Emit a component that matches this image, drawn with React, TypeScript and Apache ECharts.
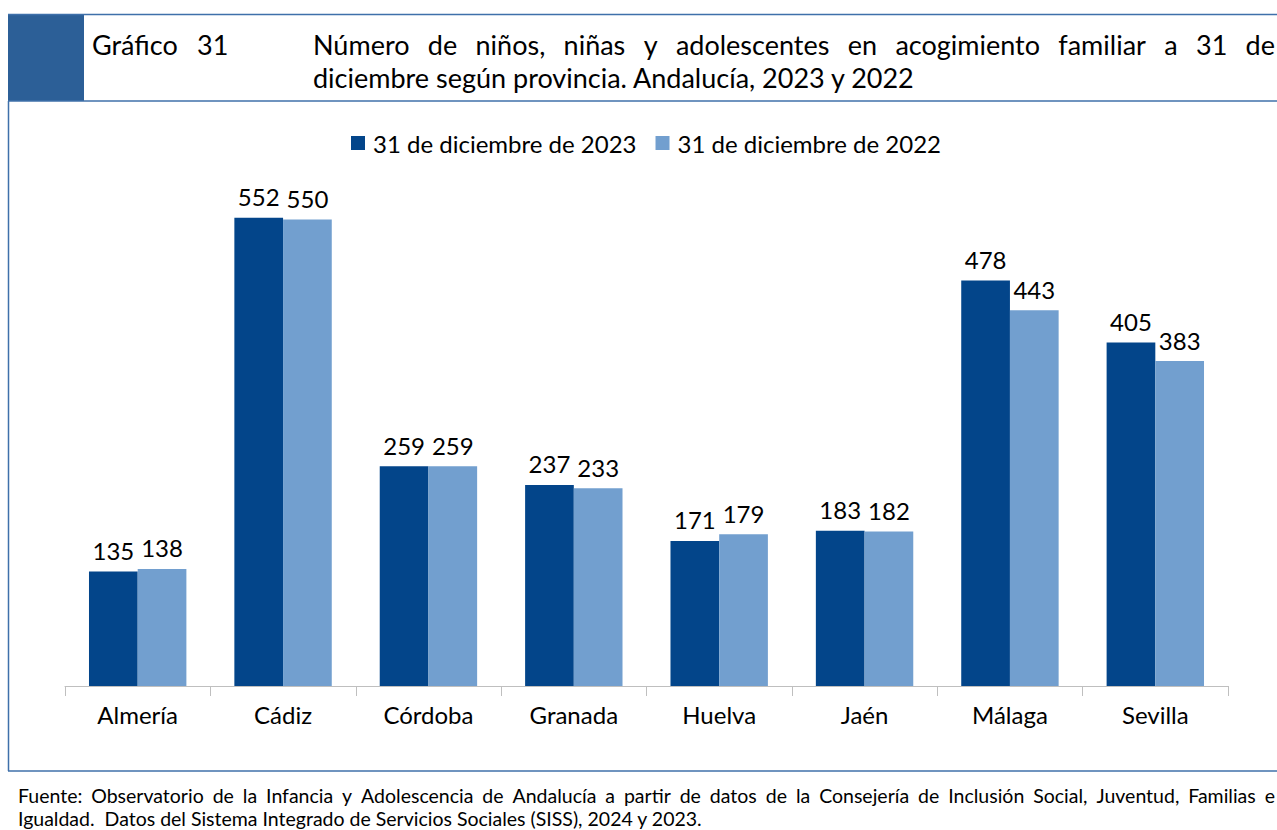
import React, { useEffect, useRef } from "react";
import * as echarts from "echarts";

const provincias = ["Almería", "Cádiz", "Córdoba", "Granada", "Huelva", "Jaén", "Málaga", "Sevilla"];
const serie2023 = [135, 552, 259, 237, 171, 183, 478, 405];
const serie2022 = [138, 550, 259, 233, 179, 182, 443, 383];
const seriesNames = ["31 de diciembre de 2023", "31 de diciembre de 2022"];
const titleLabel = "Gráfico";
const titleNum = "31";
const titleLine1 = "Número de niños, niñas y adolescentes en acogimiento familiar a 31 de";
const titleLine2 = "diciembre según provincia. Andalucía, 2023 y 2022";
const footLine1 = "Fuente: Observatorio de la Infancia y Adolescencia de Andalucía a partir de datos de la Consejería de Inclusión Social, Juventud, Familias e";
const footLine2 = "Igualdad.\u00a0 Datos del Sistema Integrado de Servicios Sociales (SISS), 2024 y 2023.";

const FAMILY = "Lato, 'Open Sans', sans-serif";
const DARK = "#03458A";
const LIGHT = "#729FCF";
const LINE = "#3F70AA";

function measure(text: string, font: string): number {
  const ctx = document.createElement("canvas").getContext("2d")!;
  ctx.font = font;
  return ctx.measureText(text).width;
}

function justified(text: string, x0: number, x1: number, y: number, size: number) {
  const words = text.split(" ");
  const font = `${size}px ${FAMILY}`;
  const widths = words.map((w) => measure(w, font));
  const total = widths.reduce((a, b) => a + b, 0);
  const gap = (x1 - x0 - total) / (words.length - 1);
  let x = x0;
  return words.map((w, i) => {
    const el = {
      type: "text",
      x,
      y,
      style: { text: w, fontSize: size, fontFamily: FAMILY, fill: "#000", verticalAlign: "middle", align: "left" },
    };
    x += widths[i] + gap;
    return el;
  });
}

export default function App() {
  const ref = useRef<HTMLDivElement>(null);
  useEffect(() => {
    const chart = echarts.init(ref.current!, null, { renderer: "svg" });
    const labelStyle = { show: true, position: "top", distance: 9, fontSize: 24, fontFamily: FAMILY, color: "#000" };
    chart.setOption({
      animation: false,
      backgroundColor: "#fff",
      legend: {
        left: 346,
        top: 126,
        itemWidth: 14,
        itemHeight: 14,
        itemGap: 19,
        icon: "rect",
        textStyle: { fontSize: 24, fontFamily: FAMILY, color: "#000", padding: [0, 0, 0, 3] },
        data: seriesNames,
      },
      grid: { left: 65, right: 49, top: 177, bottom: 144 },
      xAxis: {
        type: "category",
        data: provincias,
        axisLine: { lineStyle: { color: "#BFBFBF", width: 1 } },
        axisTick: { show: true, length: 10, lineStyle: { color: "#BFBFBF" } },
        axisLabel: { fontSize: 24, fontFamily: FAMILY, color: "#000", margin: 16 },
      },
      yAxis: { type: "value", min: 0, max: 600, show: false, splitLine: { show: false } },
      series: [
        { name: seriesNames[0], type: "bar", data: serie2023, itemStyle: { color: DARK }, barGap: "0%", barCategoryGap: "33%", label: labelStyle },
        { name: seriesNames[1], type: "bar", data: serie2022, itemStyle: { color: LIGHT }, barGap: "0%", barCategoryGap: "33%", label: labelStyle },
      ],
      graphic: [
        { type: "rect", shape: { x: 8, y: 14, width: 76, height: 87 }, style: { fill: "#2C5F97" } },
        { type: "line", shape: { x1: 8, y1: 14.5, x2: 1277, y2: 14.5 }, style: { stroke: LINE, lineWidth: 1.5 } },
        { type: "line", shape: { x1: 8, y1: 101, x2: 1277, y2: 101 }, style: { stroke: LINE, lineWidth: 1.5 } },
        { type: "line", shape: { x1: 8.5, y1: 101, x2: 8.5, y2: 771 }, style: { stroke: LINE, lineWidth: 1.5 } },
        { type: "line", shape: { x1: 8, y1: 771, x2: 1277, y2: 771 }, style: { stroke: LINE, lineWidth: 1.5 } },
        { type: "text", x: 92, y: 44, style: { text: titleLabel, fontSize: 27, fontFamily: FAMILY, fill: "#000", verticalAlign: "middle" } },
        { type: "text", x: 197, y: 44, style: { text: titleNum, fontSize: 27, fontFamily: FAMILY, fill: "#000", verticalAlign: "middle" } },
        ...justified(titleLine1, 313, 1275, 44, 27),
        { type: "text", x: 313, y: 77, style: { text: titleLine2, fontSize: 27, fontFamily: FAMILY, fill: "#000", verticalAlign: "middle" } },
        ...justified(footLine1, 18, 1275, 795, 19.5),
        { type: "text", x: 18, y: 818, style: { text: footLine2, fontSize: 19.5, fontFamily: FAMILY, fill: "#000", verticalAlign: "middle" } },
      ],
    });
    return () => chart.dispose();
  }, []);
  return <div ref={ref} style={{ position: "absolute", left: 0, top: 0, width: 1277, height: 830 }} />;
}
